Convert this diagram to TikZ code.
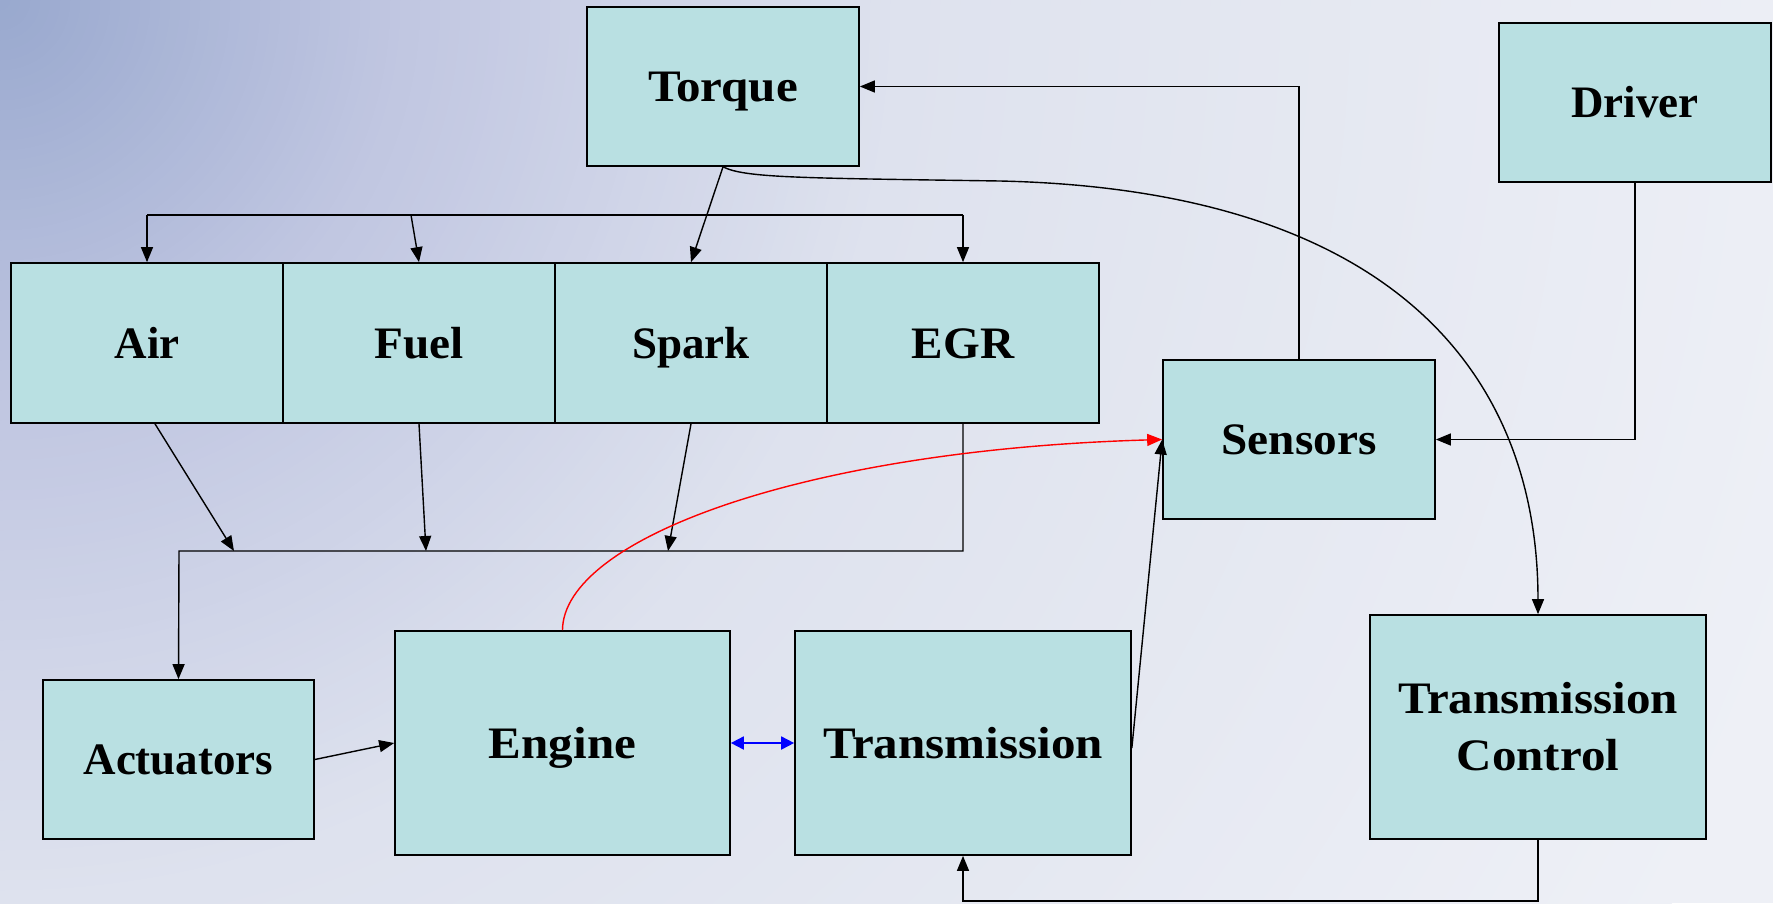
\documentclass[tikz,border=0pt]{standalone}
\usepackage{fontspec}
\setmainfont{Liberation Serif}
\newfontfamily\stretchA[FakeStretch=1.09]{Liberation Serif}
\newfontfamily\stretchB[FakeStretch=1.05]{Liberation Serif}
\usetikzlibrary{arrows.meta}
\definecolor{bgA}{RGB}{152,168,206}
\definecolor{bgB}{RGB}{192,198,225}
\definecolor{bgC}{RGB}{222,226,238}
\definecolor{bgD}{RGB}{238,240,246}
\definecolor{boxfill}{RGB}{185,224,226}
\begin{document}
\begin{tikzpicture}[x=1pt,y=-1pt,
  blk/.style={draw=black, line width=1.7pt, fill=boxfill, inner sep=0pt, align=center,
    font=\fontsize{45}{57}\selectfont\bfseries},
  one/.style={text height=30pt, text depth=0pt},
  conn/.style={line width=1.4pt, -{Triangle[length=15pt,width=12pt]}},
  plainln/.style={line width=1.4pt},
  dblarrow/.style={line width=1.8pt, blue, {Triangle[length=13pt,width=13pt]}-{Triangle[length=13pt,width=13pt]}},
  redarrow/.style={line width=1.4pt, red, -{Triangle[length=15pt,width=12pt]}}]
\useasboundingbox (0,0) rectangle (1773,903);
\fill[bgD] (0,0) rectangle (1773,903);
\begin{scope}
  \clip (0,0) rectangle (1773,903);
  \foreach \r in {1900,1890,...,10} {
    \pgfmathtruncatemacro{\seg}{\r<400 ? 1 : (\r<900 ? 2 : 3)}
    \ifnum\seg=1
      \pgfmathsetmacro{\p}{\r/4}
      \colorlet{cc}{bgB!\p!bgA}
    \else\ifnum\seg=2
      \pgfmathsetmacro{\p}{(\r-400)/5}
      \colorlet{cc}{bgC!\p!bgB}
    \else
      \pgfmathsetmacro{\p}{min(100,(\r-900)/10)}
      \colorlet{cc}{bgD!\p!bgC}
    \fi\fi
    \fill[cc] (0,0) circle (\r);
  }
\end{scope}

% blocks
\node[blk, one, minimum width=272, minimum height=159] (torque) at (723,86.5) {\stretchA Torque};
\node[blk, one, minimum width=272, minimum height=159] (driver) at (1635,102.5) {Driver};
\node[blk, one, minimum width=272, minimum height=160] (air) at (147,343) {Air};
\node[blk, one, minimum width=272, minimum height=160] (fuel) at (419,343) {\stretchB Fuel};
\node[blk, one, minimum width=272, minimum height=160] (spark) at (691,343) {Spark};
\node[blk, one, minimum width=272, minimum height=160] (egr) at (963,343) {\stretchB EGR};
\node[blk, one, minimum width=272, minimum height=159] (sensors) at (1299,439.5) {\stretchB Sensors};
\node[blk, one, minimum width=271, minimum height=159] (actuators) at (178.5,759.5) {Actuators};
\node[blk, one, minimum width=335, minimum height=224] (engine) at (562.5,743) {\stretchA Engine};
\node[blk, one, minimum width=336, minimum height=224] (transmission) at (963,743) {\stretchA Transmission};
\node[blk, minimum width=336, minimum height=224] (tc) at (1538,727) {\stretchA Transmission\\\stretchA Control};

% helper coordinates
\coordinate (busL) at (147,215);
\coordinate (busF) at (411,215);
\coordinate (busR) at (963,215);
\coordinate (lowL) at (179,551);
\coordinate (lowA) at (234,551);
\coordinate (lowF) at (426,551);
\coordinate (lowS) at (668,551);
\coordinate (lowR) at (963,551);
\coordinate (sensUp) at (1299,86.5);
\coordinate (drvDn) at (1635,439.5);
\coordinate (tcDn) at (1538,901);
\coordinate (trDn) at (963,901);
\coordinate (curveMid) at (1000,181);

% top bus
\draw[plainln] (busL) -- (busR);
\draw[conn] (busL) -- (air.north);
\draw[conn] (busF) -- (fuel.north);
\draw[conn] (busR) -- (egr.north);
\draw[conn] (torque.south) -- (spark.north);

% lower bus
\draw[conn] ([xshift=8]air.south) -- (lowA);
\draw[conn] (fuel.south) -- (lowF);
\draw[conn] (spark.south) -- (lowS);
\draw[conn] (egr.south) -- (lowR) -- (lowL) -- (actuators.north);

% lower row
\draw[conn] (actuators.east) -- (engine.west);
\draw[dblarrow] (engine.east) -- (transmission.west);
\draw[conn] ([yshift=-5]transmission.east) -- (sensors.west);
\draw[redarrow] (engine.north) .. controls (563,540) and (800,450) .. (sensors.west);

% feedback / driver
\draw[conn] (sensors.north) -- (sensUp) -- (torque.east);
\draw[conn] (driver.south) -- (drvDn) -- (sensors.east);
\draw[conn] (tc.south) -- (tcDn) -- (trDn) -- (transmission.south);

% torque to transmission control
\draw[conn] (torque.south) .. controls (745,178) and (800,178) .. (curveMid)
  .. controls (1400,190) and (1538,380) .. (tc.north);
\end{tikzpicture}
\end{document}
